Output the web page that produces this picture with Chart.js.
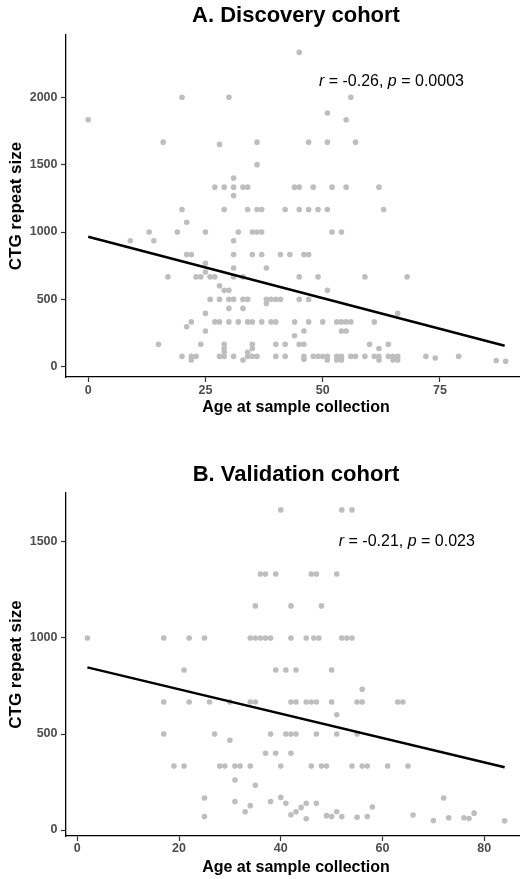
<!DOCTYPE html>
<html lang="en">
<head>
<meta charset="UTF-8">
<meta name="viewport" content="width=device-width, initial-scale=1.0">
<title>CTG repeat size by age</title>
<script src="https://cdn.jsdelivr.net/npm/chart.js"></script>
<style>
    html, body {
        margin: 0;
        padding: 0;
        background: #fff;
        width: 520px;
        height: 879px;
        overflow: hidden;
    }
    .panel { width: 530px; }
    canvas { display: block; }
</style>
</head>
<body>
<div class="panel"><canvas id="chartA" width="530" height="430"></canvas></div>
<div class="panel"><canvas id="chartB" width="530" height="449"></canvas></div>

<script>
// ---- A. Discovery cohort (one comment per CTG level) ----
const discoveryAge = [
    45,                                             // 2333
    20, 30, 56,                                     // 2000
    51,                                             // 1883
    0, 55,                                          // 1833
    16, 36, 47, 51, 57, 28,                         // 1667 / 1650
    36,                                             // 1500
    31,                                             // 1400
    27, 29, 31, 33, 34, 44, 45, 48, 52, 55, 62,     // 1333
    31,                                             // 1270
    20, 29, 34, 36, 37, 42, 45, 47, 49, 51, 63,     // 1167
    21,                                             // 1072
    13, 19, 25, 32, 35, 36, 37, 52, 54,             // 1000
    9, 14, 31,                                      // 935
    21, 22, 31, 35, 37, 41, 43, 46, 47,             // 833
    25,                                             // 768
    31, 38,                                         // 733
    25,                                             // 703
    17, 23, 24, 26, 27, 31, 33, 45, 49, 59, 68,     // 667
    28,                                             // 601
    29, 30, 51,                                     // 567
    26, 28, 30, 31, 33, 34, 38, 39, 40, 41, 45, 47, // 500
    38,                                             // 470
    30, 33,                                         // 433
    25, 66,                                         // 396
    22, 27, 28, 30, 32, 34, 35, 37, 39, 40, 44, 47, 50, 53, 54, 55, 56, 61, // 333
    21,                                             // 297
    25, 46, 54, 55,                                 // 265
    44,                                             // 230
    15, 24, 29, 35, 40, 42, 45, 46, 60, 64,         // 167
    29, 35, 62,                                     // 136
    29, 34,                                         // 110
    20, 22, 23, 28, 29, 31, 34, 35, 36, 40, 42, 46, 48, 49, 50,
    51, 53, 54, 56, 57, 59, 61, 62, 64, 65, 66, 72, 74, 79, // ~77
    87, 89,                                         // ~45
    22, 33, 46, 51, 53, 54, 62, 65, 66              // ~50
];
const discoveryCTG = [
    2333,
    2000, 2000, 2000,
    1883,
    1833, 1833,
    1667, 1667, 1667, 1667, 1667, 1650,
    1500,
    1400,
    1333, 1333, 1333, 1333, 1333, 1333, 1333, 1333, 1333, 1333, 1333,
    1270,
    1167, 1167, 1167, 1167, 1167, 1167, 1167, 1167, 1167, 1167, 1167,
    1072,
    1000, 1000, 1000, 1000, 1000, 1000, 1000, 1000, 1000,
    935, 935, 935,
    833, 833, 833, 833, 833, 833, 833, 833, 833,
    768,
    733, 733,
    703,
    667, 667, 667, 667, 667, 667, 667, 667, 667, 667, 667,
    601,
    567, 567, 567,
    500, 500, 500, 500, 500, 500, 500, 500, 500, 500, 500, 500,
    470,
    433, 433,
    396, 396,
    333, 333, 333, 333, 333, 333, 333, 333, 333, 333, 333, 333, 333, 333, 333, 333, 333, 333,
    297,
    265, 265, 265, 265,
    230,
    167, 167, 167, 167, 167, 167, 167, 167, 167, 167,
    136, 136, 136,
    111, 108,
    77, 77, 77, 77, 77, 77, 77, 77, 77, 77, 77, 77, 77, 77, 77,
    77, 77, 77, 77, 77, 77, 77, 77, 77, 77, 77, 77, 65, 77,
    47, 40,
    50, 50, 55, 50, 50, 50, 50, 50, 50
];
const discoveryFitAge = [0, 88.8];
const discoveryFitCTG = [965, 156];

// ---- B. Validation cohort ----
const validationAge = [
    40, 52, 54,                                     // 1667
    36, 37, 39, 46, 47, 51,                         // 1333
    35, 42, 48,                                     // 1167
    2, 17, 22, 25, 34, 35, 36, 37, 38, 42, 45, 46.5, 47.5, 52, 53, 54, // 1000
    21, 39, 41, 43, 50,                             // 833
    56,                                             // 733
    17, 22, 26, 30, 34, 35, 42, 43, 45, 46, 47, 50, 55, 56, 63, 64, // 667
    51,                                             // 600
    17, 27, 38, 41, 42, 43, 47, 51, 55,             // 500
    30,                                             // 467
    37, 39, 42,                                     // 400
    19, 21, 28, 29, 31, 32, 34, 40, 46, 48, 49, 54, 56, 57, 61, 65, // 333
    31, 35,                                         // 260 / 233
    25, 40, 72,                                     // 167
    31, 38, 41, 45, 47,                             // ~145
    34, 44, 58,                                     // ~120
    33, 43, 51, 42, 66, 49,                         // ~85
    25, 50, 52, 57, 55, 73, 76, 77, 45, 78, 70, 84  // < 90
];
const validationCTG = [
    1667, 1667, 1667,
    1333, 1333, 1333, 1333, 1333, 1333,
    1167, 1167, 1167,
    1000, 1000, 1000, 1000, 1000, 1000, 1000, 1000, 1000, 1000, 1000, 1000, 1000, 1000, 1000, 1000,
    833, 833, 833, 833, 833,
    733,
    667, 667, 667, 667, 667, 667, 667, 667, 667, 667, 667, 667, 667, 667, 667, 667,
    600,
    500, 500, 500, 500, 500, 500, 500, 500, 500,
    467,
    400, 400, 400,
    333, 333, 333, 333, 333, 333, 333, 333, 333, 333, 333, 333, 333, 333, 333, 333,
    260, 233,
    167, 170, 167,
    149, 149, 139, 139, 139,
    127, 118, 120,
    95, 95, 95, 80, 78, 75,
    70, 70, 70, 70, 66, 64, 64, 60, 59, 88, 50, 48
];
const validationFitAge = [2, 84];
const validationFitCTG = [847, 327];

const FONT = "'Liberation Sans', Arial, Helvetica, sans-serif";

// draws "r = ..., p = ..." with italic r and p
const statsLabel = {
    id: 'statsLabel',
    afterDatasetsDraw(chart, args, opts) {
        const ctx = chart.ctx;
        let px = chart.scales.x.getPixelForValue(opts.x);
        const py = chart.scales.y.getPixelForValue(opts.y);
        ctx.save();
        ctx.textBaseline = 'middle';
        ctx.textAlign = 'left';
        ctx.fillStyle = '#000';
        opts.parts.forEach(([text, italic]) => {
            ctx.font = (italic ? 'italic ' : '') + '16px ' + FONT;
            ctx.fillText(text, px, py);
            px += ctx.measureText(text).width;
        });
        ctx.restore();
    }
};

function toXY(xs, ys) {
    return xs.map((x, i) => ({ x: x, y: ys[i] }));
}

function makeChart(id, cfg) {
    new Chart(document.getElementById(id).getContext('2d'), {
        type: 'scatter',
        data: {
            datasets: [
                {
                    type: 'line',
                    data: toXY(cfg.fitX, cfg.fitY),
                    borderColor: '#000',
                    borderWidth: 2.4,
                    pointRadius: 0,
                    fill: false,
                    order: 0
                },
                {
                    data: toXY(cfg.xs, cfg.ys),
                    backgroundColor: '#bebebe',
                    borderWidth: 0,
                    pointRadius: 2.8,
                    order: 1
                }
            ]
        },
        options: {
            responsive: false,
            animation: false,
            events: [],
            layout: { padding: { left: 0, right: 2, top: 0, bottom: cfg.padBottom } },
            scales: {
                x: {
                    type: 'linear',
                    min: cfg.xMin, max: cfg.xMax,
                    afterBuildTicks: s => { s.ticks = cfg.xTicks.map(v => ({ value: v })); },
                    afterFit: s => { s.height = cfg.xHeight; },
                    grid: { drawOnChartArea: false, tickLength: 5, tickColor: '#333', tickWidth: 1.2 },
                    border: { display: true, color: '#000', width: 1.3 },
                    ticks: { autoSkip: false, maxRotation: 0, padding: cfg.xTickPad, color: '#4d4d4d',
                             callback: v => String(v),
                             font: { family: FONT, size: 12.5, weight: 'bold' } },
                    title: { display: true, text: 'Age at sample collection', color: '#000',
                             font: { family: FONT, size: 16, weight: 'bold' },
                             padding: { top: 0, bottom: cfg.xTitlePad } }
                },
                y: {
                    type: 'linear',
                    min: cfg.yMin, max: cfg.yMax,
                    afterBuildTicks: s => { s.ticks = cfg.yTicks.map(v => ({ value: v })); },
                    afterFit: s => { s.width = 66; },
                    grid: { drawOnChartArea: false, tickLength: 5, tickColor: '#333', tickWidth: 1.2 },
                    border: { display: true, color: '#000', width: 1.3 },
                    ticks: { padding: 3.5, color: '#4d4d4d',
                             callback: v => String(v),
                             font: { family: FONT, size: 12.5, weight: 'bold' } },
                    title: { display: true, text: 'CTG repeat size', color: '#000',
                             font: { family: FONT, size: 17, weight: 'bold' },
                             padding: { top: 6.5, bottom: 0 } }
                }
            },
            plugins: {
                legend: { display: false },
                tooltip: { enabled: false },
                title: {
                    display: true,
                    text: cfg.title,
                    fullSize: false,
                    color: '#000',
                    font: { family: FONT, size: 22, weight: 'bold' },
                    padding: { top: cfg.titleTop, bottom: cfg.titleBottom }
                },
                statsLabel: { x: cfg.statX, y: cfg.statY, parts: cfg.stat }
            }
        },
        plugins: [statsLabel]
    });
}

makeChart('chartA', {
    title: 'A. Discovery cohort',
    xs: discoveryAge, ys: discoveryCTG,
    fitX: discoveryFitAge, fitY: discoveryFitCTG,
    xMin: -4.73, xMax: 93.35, xTicks: [0, 25, 50, 75],
    yMin: -76, yMax: 2462, yTicks: [0, 500, 1000, 1500, 2000],
    titleTop: 2.8, titleBottom: 5.8,
    xHeight: 45, xTickPad: 0.8, xTitlePad: 4.4, padBottom: 8,
    statX: 49.2, statY: 2113,
    stat: [['r', true], [' = -0.26, ', false], ['p', true], [' = 0.0003', false]]
});

makeChart('chartB', {
    title: 'B. Validation cohort',
    xs: validationAge, ys: validationCTG,
    fitX: validationFitAge, fitY: validationFitCTG,
    xMin: -2.21, xMax: 88.2, xTicks: [0, 20, 40, 60, 80],
    yMin: -31, yMax: 1755, yTicks: [0, 500, 1000, 1500],
    titleTop: 31.8, titleBottom: 4.8,
    xHeight: 43, xTickPad: 0.5, xTitlePad: 1.4, padBottom: 0,
    statX: 51.4, statY: 1500,
    stat: [['r', true], [' = -0.21, ', false], ['p', true], [' = 0.023', false]]
});
</script>
</body>
</html>
